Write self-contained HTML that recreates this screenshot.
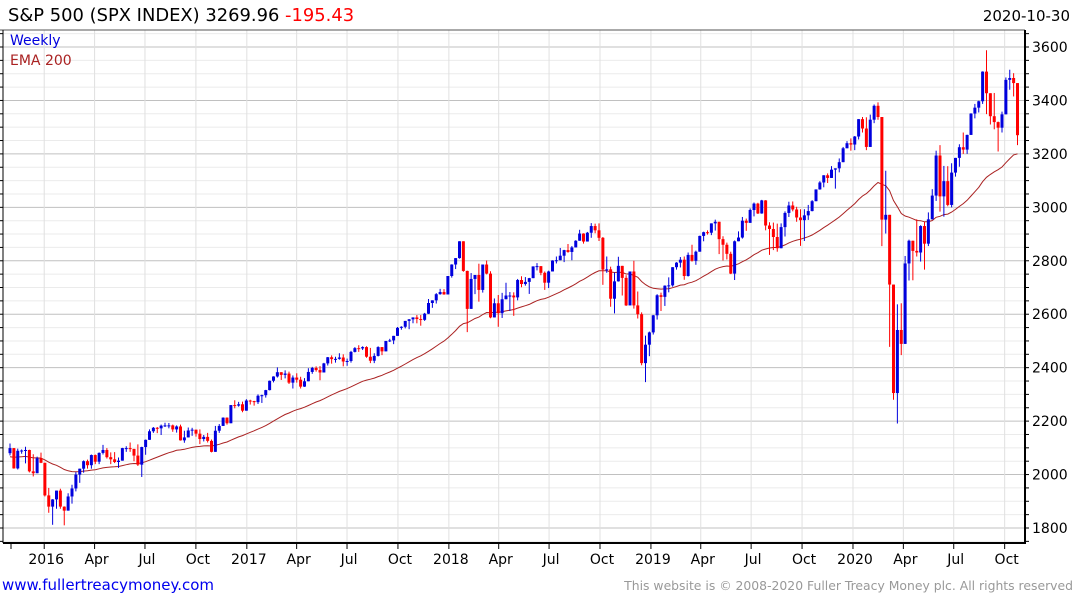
<!DOCTYPE html>
<html><head><meta charset="utf-8">
<style>
html,body{margin:0;padding:0;background:#fff;}
body{width:1075px;height:600px;overflow:hidden;font-family:"Liberation Sans","DejaVu Sans",sans-serif;}
svg text{font-family:"DejaVu Sans","Liberation Sans",sans-serif;}
</style></head>
<body>
<svg id="chart" width="1075" height="600" xmlns="http://www.w3.org/2000/svg">
<text x="8" y="21" font-size="17.9" fill="#000">S&amp;P 500 (SPX INDEX) 3269.96 <tspan fill="#ff0000">-195.43</tspan></text>
<text x="1070" y="21" font-size="15" fill="#000" text-anchor="end">2020-10-30</text>
<g id="grid"></g>
<g id="ema"></g>
<g id="candles"></g>
<g id="axes"></g>
<text x="10" y="45" font-size="14" fill="#0000dd">Weekly</text>
<text x="10" y="65" font-size="14" fill="#aa2222">EMA 200</text>
<text x="2" y="590" font-size="15" fill="#0000ee">www.fullertreacymoney.com</text>
<text x="1073" y="590" font-size="12.4" fill="#999" text-anchor="end">This website is © 2008-2020 Fuller Treacy Money plc. All rights reserved</text>
</svg>
<script>
const closes=[2099,2023,2089,2090,2092,2012,2005,2061,2044,
1922,1880,1907,1940,1880,1865,1918,1948,2000,2022,2050,2035,2073,2048,2081,2092,2065,2057,2047,2052,2099,2099,2096,2071,2037,2103,2130,2162,2175,2173,2183,2184,2184,2169,2180,2128,2139,2165,2168,2153,2133,2141,2126,2085,2164,2182,2213,2192,2260,2258,2263,2239,
2277,2275,2271,2295,2297,2316,2351,2367,2383,2373,2378,2344,2363,2355,2329,2349,2384,2399,2391,2382,2416,2439,2432,2433,2438,2423,2425,2459,2473,2472,2477,2441,2426,2444,2477,2461,2500,2502,2519,2549,2553,2575,2581,2588,2582,2579,2602,2642,2652,2675,2683,2674,
2743,2786,2810,2873,2762,2620,2732,2747,2691,2786,2752,2588,2641,2604,2656,2670,2670,2663,2728,2713,2721,2735,2779,2780,2755,2718,2760,2801,2802,2819,2840,2833,2850,2875,2902,2872,2905,2930,2914,2886,2767,2768,2658,2723,2781,2736,2633,2760,2633,2600,2417,2486,
2532,2596,2671,2665,2707,2708,2776,2793,2804,2743,2822,2800,2834,2893,2907,2905,2940,2946,2881,2860,2826,2752,2873,2887,2950,2942,2990,3014,2977,3026,2932,2919,2889,2847,2926,2979,3007,2992,2962,2952,2970,2986,3023,3067,3093,3120,3110,3141,3146,3169,3221,3240,
3235,3265,3330,3295,3226,3328,3380,3338,2954,2972,2711,2305,2541,2489,2790,2875,2837,2831,2930,2864,2955,3044,3194,3041,3098,3009,3130,3185,3225,3216,3271,3351,3373,3397,3508,3427,3341,3319,3298,3348,3477,3484,3465,3270];
const highs=[2116,2093,2097,2094,2104,2093,2076,2067,2082,
2044,1950,1908,1940,1947,1881,1930,1962,2009,2022,2053,2056,2075,2075,2083,2111,2099,2083,2084,2064,2100,2106,2120,2092,2113,2104,2131,2169,2178,2178,2187,2194,2193,2187,2184,2187,2164,2176,2175,2165,2169,2148,2156,2131,2182,2189,2214,2214,2260,2278,2272,2273,
2282,2280,2276,2300,2299,2317,2352,2368,2401,2383,2390,2385,2371,2379,2366,2361,2398,2403,2405,2406,2418,2440,2446,2441,2454,2450,2434,2463,2477,2484,2480,2480,2474,2454,2480,2471,2500,2508,2519,2552,2555,2575,2582,2588,2597,2597,2605,2657,2652,2679,2695,2694,
2743,2787,2810,2873,2870,2763,2754,2747,2789,2786,2801,2761,2659,2672,2680,2718,2683,2682,2732,2742,2739,2736,2779,2791,2774,2760,2763,2802,2816,2848,2841,2863,2855,2877,2916,2903,2908,2941,2939,2940,2889,2816,2778,2756,2815,2781,2746,2760,2800,2685,2607,2520,
2535,2597,2675,2681,2708,2738,2776,2795,2814,2816,2831,2860,2838,2894,2909,2914,2940,2954,2931,2892,2868,2834,2876,2910,2964,2958,2996,3018,3017,3028,3027,2944,2943,2939,2940,2985,3021,3022,3002,2993,2993,3009,3027,3067,3098,3120,3127,3154,3146,3183,3226,3248,
3258,3267,3330,3338,3337,3347,3385,3393,3260,3137,2883,2562,2637,2641,2818,2879,2869,2955,2933,2945,2981,3068,3212,3233,3155,3154,3165,3184,3236,3280,3272,3352,3387,3399,3509,3588,3425,3428,3321,3358,3486,3515,3502,3465];
const lows=[2072,2022,2019,2078,2042,2008,1993,2005,2043,
1918,1857,1812,1872,1872,1810,1865,1891,1937,1969,2007,2022,2022,2039,2039,2075,2060,2039,2043,2025,2052,2085,2085,2050,2032,1991,2074,2131,2156,2155,2148,2178,2173,2160,2157,2127,2119,2139,2145,2142,2114,2124,2120,2083,2085,2156,2187,2187,2192,2248,2254,2233,
2245,2262,2258,2264,2268,2288,2315,2345,2363,2354,2360,2339,2322,2344,2322,2328,2374,2377,2385,2353,2382,2408,2415,2419,2430,2405,2407,2419,2457,2459,2466,2437,2417,2417,2442,2447,2473,2496,2488,2520,2542,2547,2544,2566,2566,2557,2575,2601,2624,2640,2673,2673,
2682,2737,2769,2808,2759,2533,2630,2675,2647,2681,2749,2585,2593,2553,2586,2660,2612,2594,2652,2701,2707,2676,2736,2764,2746,2691,2698,2770,2790,2802,2795,2830,2802,2850,2876,2864,2874,2886,2903,2874,2710,2755,2628,2603,2722,2670,2631,2649,2621,2584,2409,2346,
2443,2524,2580,2612,2631,2682,2703,2767,2775,2729,2741,2797,2785,2848,2873,2898,2896,2913,2825,2801,2805,2750,2728,2873,2883,2912,2952,2966,2975,2976,2914,2822,2840,2834,2853,2891,2964,2985,2946,2856,2874,2953,2985,3023,3066,3075,3091,3110,3070,3131,3170,3221,
3212,3214,3254,3280,3214,3235,3315,3328,2855,2902,2478,2280,2191,2447,2507,2726,2727,2816,2797,2767,2855,2969,3024,2984,2965,3004,3000,3115,3152,3200,3200,3284,3333,3355,3387,3349,3310,3292,3209,3280,3354,3440,3415,3233];
const firstOpen=2080;
const yTicks=[1800,2000,2200,2400,2600,2800,3000,3200,3400,3600];
const xTickLabels=["2016","Apr","Jul","Oct","2017","Apr","Jul","Oct","2018","Apr","Jul","Oct","2019","Apr","Jul","Oct","2020","Apr","Jul","Oct"];
const xTickDays=[60,151,242,334,426,516,607,699,791,881,972,1064,1156,1246,1337,1429,1521,1612,1703,1795];
const emaPeriod=40;
const emaSeed=2065;

const NS="http://www.w3.org/2000/svg";
const X0=11, PXW=3.875, AXR=1025, AXB=543, TOP=30;
function xIdx(i){return 10+i*PXW;}
function xDay(d){return X0+d/7*PXW;}
function yv(v){return 528-(v-1800)*0.26722;}
function mk(tag,attrs,parent){const e=document.createElementNS(NS,tag);for(const k in attrs)e.setAttribute(k,attrs[k]);parent.appendChild(e);return e;}
const grid=document.getElementById('grid'),axes=document.getElementById('axes'),cg=document.getElementById('candles'),eg=document.getElementById('ema');
for(let v=1750;v<=3650;v+=50){const y=yv(v);if(y<TOP||y>AXB)continue;
 const l=mk('line',{x1:3,x2:AXR,y1:y,y2:y,stroke:v%200===0?'#c0c0c0':'#ebebeb','stroke-width':1},grid);
 
 
 const t=mk('line',{x1:AXR,x2:AXR+4,y1:y,y2:y,stroke:'#000','stroke-width':1},axes);
 
 
 const t2=mk('line',{x1:0,x2:3,y1:y,y2:y,stroke:'#000','stroke-width':1},axes);
 
 
}
for(let i=0;i<yTicks.length;i++){const y=yv(yTicks[i]);
 const t=mk('text',{x:1032,y:y+5,'font-size':14,fill:'#000'},axes);t.textContent=yTicks[i];
 
 
}
for(let i=0;i<xTickDays.length;i++){const x=xDay(xTickDays[i]);
 const g=mk('line',{x1:x,x2:x,y1:TOP,y2:AXB,stroke:'#e0e0e0','stroke-width':1},grid);
 
 
 const t=mk('line',{x1:x,x2:x,y1:AXB,y2:AXB+6,stroke:'#000','stroke-width':1},axes);
 
 
 const l=mk('text',{x:x+2,y:564,'font-size':14,fill:'#000','text-anchor':'middle'},axes);l.textContent=xTickLabels[i];
 
 
}
const xt0=mk('line',{x1:11,x2:11,y1:AXB,y2:AXB+6,stroke:'#000'},axes);


const topL=mk('line',{x1:0,x2:AXR,y1:TOP,y2:TOP,stroke:'#555','stroke-width':1},axes);


const bx=mk('line',{x1:3,x2:AXR+1,y1:AXB,y2:AXB,stroke:'#000','stroke-width':2},axes);


const ry=mk('line',{x1:AXR,x2:AXR,y1:TOP,y2:AXB,stroke:'#000','stroke-width':2},axes);


const ly=mk('line',{x1:3,x2:3,y1:TOP,y2:AXB,stroke:'#000','stroke-width':1},axes);


let ema=emaSeed,pts=[];const a=2/(emaPeriod+1);
for(let i=0;i<closes.length;i++){ema=ema+a*(closes[i]-ema);pts.push(xIdx(i).toFixed(1)+','+yv(ema).toFixed(1));}
const pl=mk('polyline',{points:pts.join(' '),fill:'none',stroke:'#aa2222','stroke-width':1},eg);


for(let i=0;i<closes.length;i++){
 const o=i===0?firstOpen:closes[i-1],c=closes[i];
 const h=Math.max(highs[i],o,c),lo=Math.min(lows[i],o,c);
 const col=c>=o?'#0000dd':'#ff0000';const x=xIdx(i);
 const w=mk('line',{x1:x,x2:x,y1:yv(h),y2:yv(lo),stroke:col,'stroke-width':1},cg);
 
 
 const yt=yv(Math.max(o,c)),yb=yv(Math.min(o,c));
 const r=mk('rect',{x:x-1.5,y:yt,width:3,height:Math.max(1,yb-yt),fill:col},cg);
 
 
}
</script>
</body></html>
